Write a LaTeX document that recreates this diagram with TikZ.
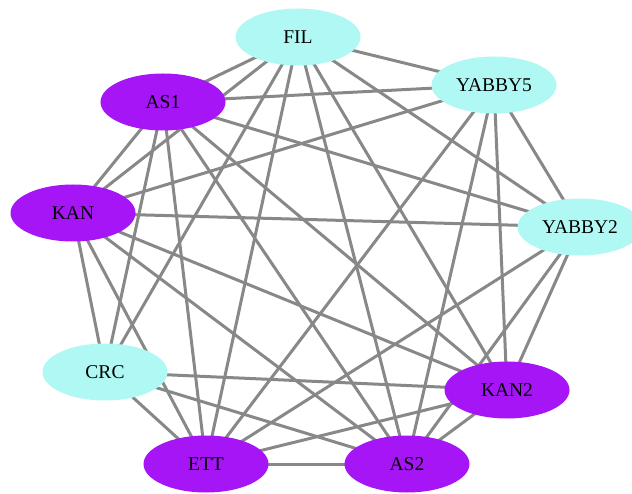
\documentclass[tikz,border=0pt]{standalone}
\usepackage{fontspec}
\setmainfont{Liberation Serif}
\usetikzlibrary{shapes.geometric,backgrounds}
\definecolor{cyanish}{RGB}{175,248,243}
\definecolor{purp}{RGB}{165,21,245}
\definecolor{edgegray}{RGB}{136,136,136}
\begin{document}
\begin{tikzpicture}[x=1pt,y=-1pt,
  gnode/.style={ellipse, minimum width=125pt, minimum height=57pt, inner sep=0pt,
    font=\fontsize{19.5}{20}\selectfont},
  cnode/.style={gnode, fill=cyanish},
  pnode/.style={gnode, fill=purp},
  link/.style={draw=edgegray, line width=3pt}]
\useasboundingbox (0,0) rectangle (632,494);
\node[cnode] (FIL) at (298,37) {FIL};
\node[cnode] (YABBY5) at (494,85) {YABBY5};
\node[pnode] (AS1) at (163,102) {AS1};
\node[pnode] (KAN) at (73,213) {KAN};
\node[cnode] (YABBY2) at (580,227) {YABBY2};
\node[cnode] (CRC) at (105,372) {CRC};
\node[pnode] (KAN2) at (507,390) {KAN2};
\node[pnode] (ETT) at (206,464) {ETT};
\node[pnode] (AS2) at (407,464) {AS2};
\begin{pgfonlayer}{background}
\foreach \a/\b in {FIL/YABBY5, FIL/AS1, FIL/KAN, FIL/YABBY2, FIL/CRC, FIL/KAN2, FIL/ETT, FIL/AS2,
  YABBY5/AS1, YABBY5/KAN, YABBY5/YABBY2, YABBY5/KAN2, YABBY5/ETT, YABBY5/AS2,
  AS1/KAN, AS1/YABBY2, AS1/CRC, AS1/KAN2, AS1/ETT, AS1/AS2,
  KAN/YABBY2, KAN/CRC, KAN/KAN2, KAN/ETT, KAN/AS2,
  YABBY2/KAN2, YABBY2/ETT, YABBY2/AS2,
  CRC/KAN2, CRC/ETT, CRC/AS2,
  KAN2/ETT, KAN2/AS2,
  ETT/AS2}
  \draw[link] (\a.center) -- (\b.center);
\end{pgfonlayer}
\end{tikzpicture}
\end{document}
